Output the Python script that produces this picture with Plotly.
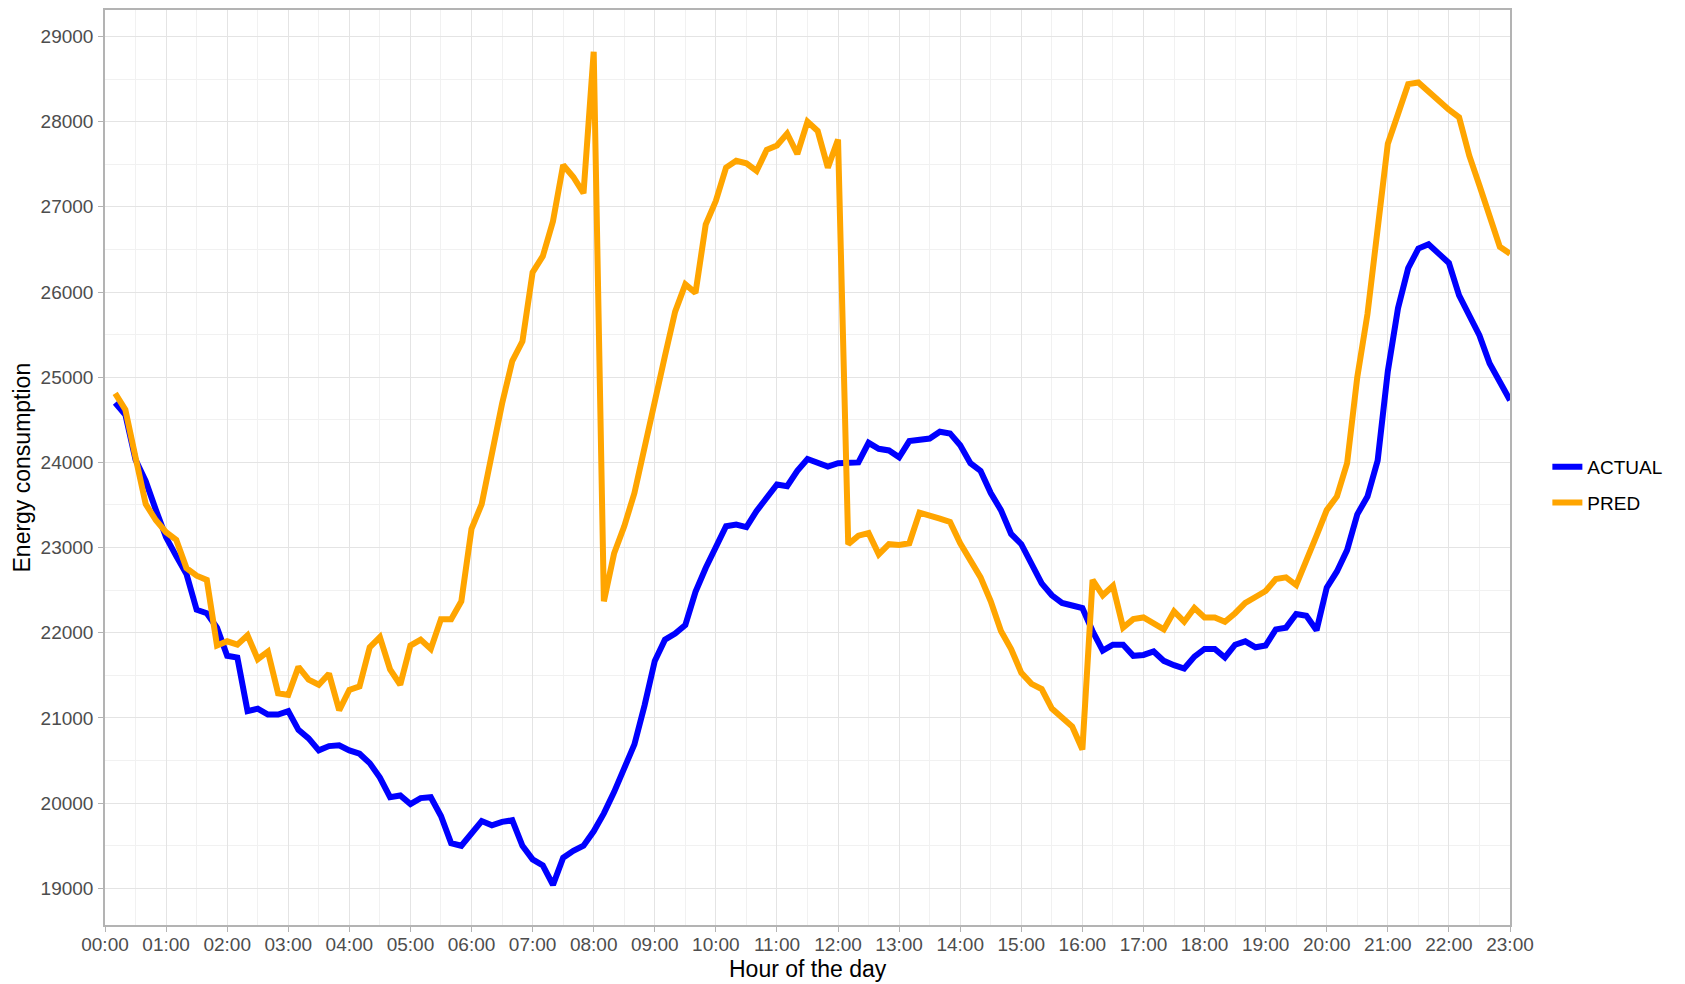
import pandas as pd
import plotly.graph_objects as go

# 10-minute readings from 00:10 to 23:00
times = pd.date_range("2000-01-01 00:10", "2000-01-01 23:00", freq="10min")

actual = [
    24700, 24560, 24030, 23780, 23440, 23120, 22900, 22690, 22270, 22230,
    22060, 21730, 21710, 21080, 21110, 21040, 21040, 21080, 20860, 20760,
    20620, 20670, 20680, 20620, 20580, 20470, 20300, 20070, 20090, 19990,
    20060, 20070, 19850, 19530, 19500, 19640, 19790, 19740, 19780, 19800,
    19500, 19340, 19270, 19040, 19360, 19440, 19500, 19670, 19880, 20130,
    20410, 20690, 21150, 21670, 21920, 21990, 22090, 22480, 22760, 23000,
    23250, 23270, 23240, 23430, 23580, 23740, 23720, 23900, 24040, 23990,
    23950, 23990, 23990, 24000, 24230, 24160, 24140, 24060, 24250, 24270,
    24280, 24360, 24340, 24200, 23990, 23900, 23640, 23440, 23160, 23040,
    22790, 22580, 22440, 22350, 22320, 22290, 22020, 21790, 21860, 21860,
    21730, 21740, 21780, 21670, 21620, 21580, 21720, 21810, 21810, 21710,
    21860, 21900, 21830, 21850, 22040, 22060, 22220, 22200, 22030, 22530,
    22720, 22970, 23390, 23600, 24020, 25070, 25810, 26280, 26510, 26560,
    26450, 26340, 25960, 25720, 25490, 25160, 24930, 24730,
]

pred = [
    24810, 24620, 24060, 23510, 23320, 23180, 23090, 22760, 22670, 22620,
    21850, 21900, 21860, 21970, 21690, 21780, 21290, 21270, 21600, 21450,
    21390, 21520, 21090, 21330, 21370, 21830, 21950, 21570, 21390, 21850,
    21920, 21810, 22160, 22160, 22370, 23220, 23510, 24130, 24690, 25190,
    25420, 26230, 26420, 26830, 27490, 27350, 27160, 28820, 22370, 22930,
    23250, 23640, 24200, 24690, 25250, 25770, 26090, 25990, 26790, 27070,
    27460, 27540, 27510, 27420, 27670, 27720, 27860, 27620, 28000, 27890,
    27460, 27790, 23040, 23140, 23170, 22920, 23040, 23030, 23050, 23410,
    23380, 23340, 23300, 23050, 22850, 22650, 22370, 22020, 21810, 21530,
    21400, 21340, 21110, 21010, 20900, 20630, 22620, 22440, 22550, 22060,
    22160, 22180, 22110, 22040, 22250, 22130, 22290, 22180, 22180, 22130,
    22230, 22350, 22420, 22490, 22630, 22650, 22560, 22830, 23140, 23440,
    23600, 23990, 25000, 25740, 26720, 27740, 28090, 28440, 28460, 28350,
    28230, 28140, 28050, 27600, 27250, 26900, 26530, 26450,
]

series_names = ["ACTUAL", "PRED"]
series_colors = ["#0000FF", "#FFA500"]
y_ticks = [19000, 20000, 21000, 22000, 23000, 24000, 25000, 26000, 27000, 28000, 29000]
x_title = "Hour of the day"
y_title = "Energy consumption"

FONT = "Liberation Sans, Arial, sans-serif"

fig = go.Figure()
for name, vals, col in zip(series_names, [actual, pred], series_colors):
    fig.add_trace(go.Scatter(
        x=times, y=vals, mode="lines", name=name, legendgroup=name,
        line=dict(color=col, width=6),
    ))

grid_major = "#E4E4E4"
grid_minor = "#F1F1F1"
border = "#B3B3B3"

# The page body has an 8px margin, so the figure is 8px smaller than the window.
fig.update_layout(
    width=1677, height=976,
    margin=dict(l=97, r=175, t=0, b=59),
    paper_bgcolor="white", plot_bgcolor="white",
    font=dict(family=FONT, size=19, color="#4D4D4D"),
    showlegend=True,
    legend=dict(
        x=1.0266, xanchor="left", y=0.481, yanchor="middle",
        font=dict(family=FONT, size=19, color="black"),
        tracegroupgap=8, bgcolor="rgba(0,0,0,0)",
    ),
    xaxis=dict(
        range=["2000-01-01 00:00", "2000-01-01 23:00"],
        type="date", dtick=3600000, tick0="2000-01-01 00:00",
        tickformat="%H:%M",
        showgrid=True, gridcolor=grid_major, gridwidth=1,
        minor=dict(dtick=1800000, showgrid=True, gridcolor=grid_minor, gridwidth=1),
        showline=True, linecolor=border, linewidth=1.5, mirror=True,
        ticks="outside", ticklen=5, tickcolor=border, tickwidth=1,
        ticklabelstandoff=-4,
        tickfont=dict(family=FONT, size=19, color="#4D4D4D"),
        zeroline=False,
    ),
    yaxis=dict(
        range=[18570, 29310],
        tickvals=y_ticks, tickformat="d",
        showgrid=True, gridcolor=grid_major, gridwidth=1,
        minor=dict(dtick=500, tick0=18500, showgrid=True, gridcolor=grid_minor, gridwidth=1),
        showline=True, linecolor=border, linewidth=1.5, mirror=True,
        ticks="outside", ticklen=5, tickcolor=border, tickwidth=1,
        ticklabelstandoff=1,
        tickfont=dict(family=FONT, size=19, color="#4D4D4D"),
        zeroline=False,
    ),
    annotations=[
        dict(text=x_title, xref="paper", yref="paper", x=0.5, y=0, yshift=-44,
             xanchor="center", yanchor="middle", showarrow=False,
             font=dict(family=FONT, size=23, color="black")),
        dict(text=y_title, xref="paper", yref="paper", x=0, y=0.5, xshift=-84,
             xanchor="center", yanchor="middle", showarrow=False, textangle=-90,
             font=dict(family=FONT, size=23, color="black")),
    ],
)

fig.write_html("out.html")
